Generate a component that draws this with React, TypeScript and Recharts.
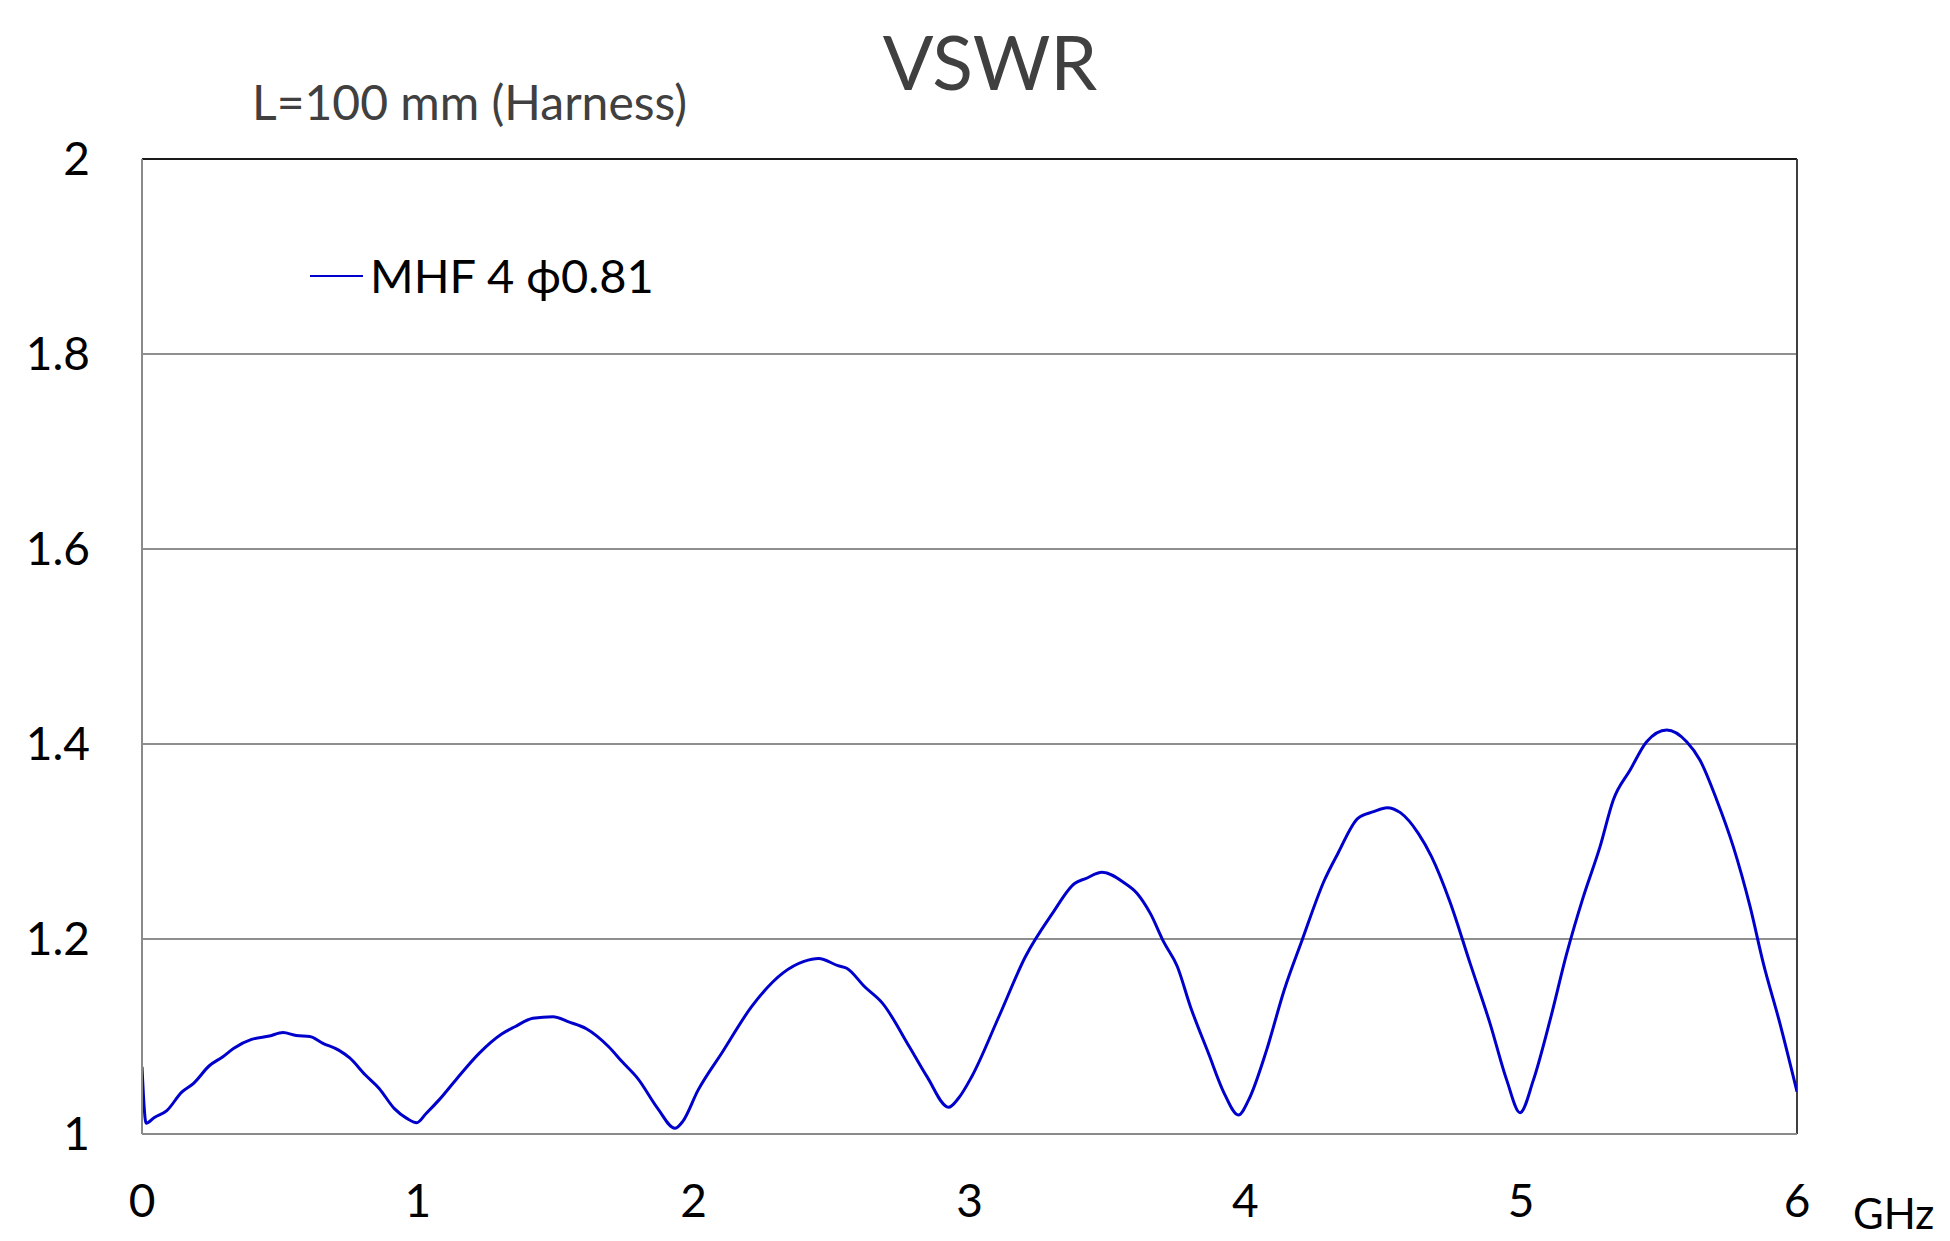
import React from 'react';
import {
  LineChart,
  Line,
  XAxis,
  YAxis,
  CartesianGrid,
  ReferenceLine,
  Legend,
} from 'recharts';

// Frequency (GHz)
const freqGHz: number[] = [
  0, 0.015, 0.045, 0.09, 0.144, 0.187, 0.244, 0.292, 0.333, 0.397, 0.462, 0.511,
  0.559, 0.608, 0.656, 0.713, 0.753, 0.81, 0.859, 0.915, 0.96, 0.996, 1.03, 1.077,
  1.142, 1.223, 1.304, 1.352, 1.417, 1.49, 1.547, 1.611, 1.692, 1.741, 1.797, 1.87,
  1.932, 1.96, 2.016, 2.105, 2.21, 2.323, 2.4, 2.453, 2.523, 2.555, 2.62, 2.685,
  2.782, 2.846, 2.924, 2.96, 3.008, 3.106, 3.203, 3.3, 3.381, 3.421, 3.481, 3.559,
  3.607, 3.656, 3.704, 3.753, 3.801, 3.866, 3.923, 3.975, 4.012, 4.077, 4.141, 4.206,
  4.287, 4.336, 4.408, 4.465, 4.514, 4.562, 4.627, 4.675, 4.742, 4.815, 4.887,
  4.948, 4.996, 5.044, 5.105, 5.165, 5.225, 5.286, 5.334, 5.395, 5.455, 5.528, 5.6,
  5.648, 5.709, 5.769, 5.83, 5.878, 5.938, 6.0,
];

// VSWR, MHF 4 ϕ0.81, L=100 mm
const vswrMHF4: number[] = [
  1.069, 1.011, 1.017, 1.024, 1.043, 1.052, 1.07, 1.079, 1.088, 1.097, 1.1005, 1.104,
  1.101, 1.1, 1.093, 1.086, 1.078, 1.0605, 1.047, 1.026, 1.016, 1.0116, 1.021, 1.035,
  1.057, 1.083, 1.1026, 1.11, 1.1187, 1.1203, 1.115, 1.108, 1.0895, 1.074, 1.057, 1.026,
  1.0058, 1.0127, 1.045, 1.0844, 1.1306, 1.165, 1.177, 1.18, 1.1727, 1.17, 1.151, 1.134,
  1.0895, 1.0588, 1.0274, 1.0366, 1.0588, 1.12, 1.182, 1.226, 1.257, 1.262, 1.2684, 1.258,
  1.247, 1.226, 1.197, 1.172, 1.1306, 1.083, 1.042, 1.0195, 1.035, 1.086, 1.1477, 1.199,
  1.2605, 1.288, 1.3238, 1.3306, 1.3347, 1.3296, 1.3084, 1.2845, 1.238, 1.175, 1.1135,
  1.055, 1.0219, 1.055, 1.117, 1.185, 1.243, 1.2947, 1.3426, 1.3733, 1.4024, 1.4144, 1.4024,
  1.3836, 1.3426, 1.2947, 1.2331, 1.175, 1.1135, 1.0434,
];

const xTicks: number[] = [0, 1, 2, 3, 4, 5, 6];
const yTicks: number[] = [1, 1.2, 1.4, 1.6, 1.8, 2];
const yTickLabels: string[] = ['1', '1.2', '1.4', '1.6', '1.8', '2'];

const seriesName = 'MHF 4 \u03D50.81';
const titleText = 'VSWR';
const subtitleText = 'L=100 mm (Harness)';
const unitText = 'GHz';

const data = freqGHz.map((f, i) => ({ f, vswr: vswrMHF4[i] }));

const FONT = 'Lato, "Open Sans", "DejaVu Sans", sans-serif';
const LINE_COLOR = '#0000CC';

const renderLegend = () => (
  <svg width={420} height={70} style={{ display: 'block' }}>
    <line x1={10} y1={36} x2={63} y2={36} stroke={LINE_COLOR} strokeWidth={2} />
    <text x={70} y={53} fontFamily={FONT} fontSize={47} fill="#000">
      {seriesName}
    </text>
  </svg>
);

export default function App() {
  return (
    <div style={{ position: 'absolute', left: 0, top: 0, width: 1950, height: 1241, background: '#fff' }}>
      <LineChart
        width={1950}
        height={1241}
        data={data}
        margin={{ top: 159, right: 153, bottom: 47, left: 42 }}
      >
        <CartesianGrid vertical={false} stroke="#8f8f8f" strokeWidth={2} />
        <XAxis
          dataKey="f"
          type="number"
          domain={[0, 6]}
          ticks={xTicks}
          allowDataOverflow
          height={60}
          tickLine={false}
          tickSize={0}
          tickMargin={50}
          axisLine={{ stroke: '#8a8a8a', strokeWidth: 2 }}
          tick={{ fontFamily: FONT, fontSize: 46, fill: '#000' }}
          label={(props: any) => {
            const vb = props.viewBox || {};
            return (
              <text
                x={vb.x + vb.width + 56}
                y={vb.y + 95}
                fontFamily={FONT}
                fontSize={42}
                fill="#000"
              >
                {unitText}
              </text>
            );
          }}
        />
        <YAxis
          type="number"
          domain={[1, 2]}
          ticks={yTicks}
          width={100}
          tickLine={false}
          tickSize={0}
          tickMargin={52}
          axisLine={{ stroke: '#8a8a8a', strokeWidth: 2 }}
          tick={{ fontFamily: FONT, fontSize: 46, fill: '#000' }}
          tickFormatter={(v: number) => yTickLabels[yTicks.indexOf(v)] ?? String(v)}
        />
        <ReferenceLine y={2} stroke="#1a1a1a" strokeWidth={2} />
        <ReferenceLine x={6} stroke="#404040" strokeWidth={2} />
        <Legend
          layout="horizontal"
          verticalAlign="middle"
          align="center"
          content={renderLegend}
          wrapperStyle={{ left: 300, top: 240, width: 420, height: 70 }}
        />
        <Line
          type="monotone"
          dataKey="vswr"
          name={seriesName}
          stroke={LINE_COLOR}
          strokeWidth={3}
          dot={false}
          activeDot={false}
          isAnimationActive={false}
        />
      </LineChart>
      <svg
        width={1950}
        height={1241}
        style={{ position: 'absolute', left: 0, top: 0, pointerEvents: 'none' }}
      >
        <text x={990} y={90} textAnchor="middle" fontFamily={FONT} fontSize={75} fill="#404040">
          {titleText}
        </text>
        <text x={252} y={120} fontFamily={FONT} fontSize={48} fill="#404040">
          {subtitleText}
        </text>
      </svg>
    </div>
  );
}
